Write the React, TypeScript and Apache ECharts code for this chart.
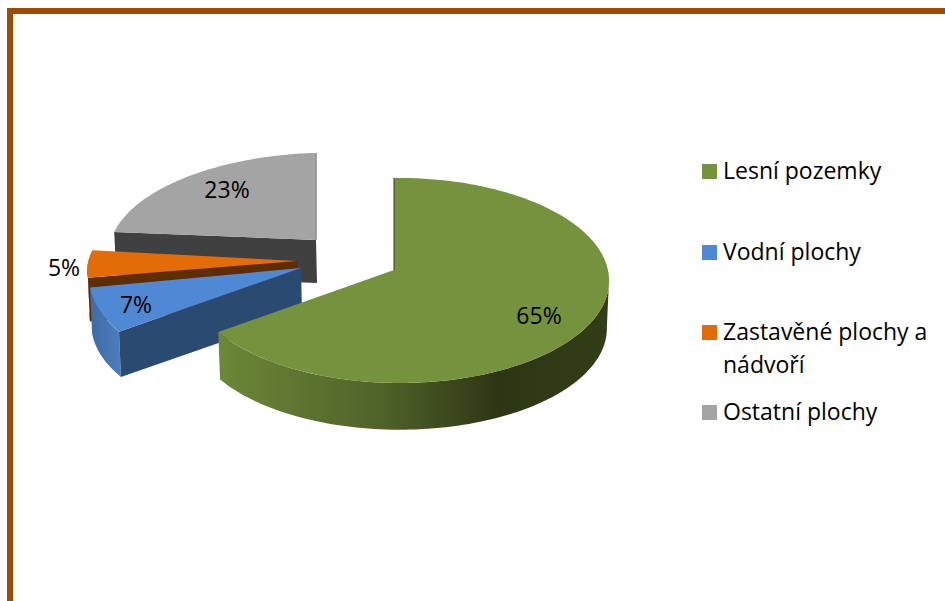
import React, { useEffect, useRef } from "react";
import * as echarts from "echarts";

const categories = ["Lesní pozemky", "Vodní plochy", "Zastavěné plochy a nádvoří", "Ostatní plochy"];
const legendLabels = ["Lesní pozemky", "Vodní plochy", "Zastavěné plochy a\nnádvoří", "Ostatní plochy"];
const shares = [65, 7, 5, 23];
const topColors = ["#75923C", "#4F88D3", "#E36C09", "#A4A4A4"];

const FONT = "'Open Sans', sans-serif";
const TEXT_SIZE = 23;
const K = 0.102;
const M = 0.025;

// Exploded-slice geometry (drawing style): apex, radii, wall depth, y-shear, label centre
const SLICE_STYLE = [
  { ax: 394, ay: 270, r: 208.6, s: 101.4, depth: 48, shear: 0, lx: 539, ly: 315, cutColor: "#2A3414", edge: "#2F3A17", edgeW: 1 },
  { ax: 301, ay: 268, r: 216, s: 104, depth: 46, shear: 0, lx: 136, ly: 304, cutColor: "#2B4A72", edge: "", edgeW: 0 },
  { ax: 297, ay: 261, r: 214, s: 90, depth: 44, shear: 0, lx: 64, ly: 267, cutColor: "#5E2D02", edge: "", edgeW: 0 },
  { ax: 316, ay: 240, r: 211, s: 96, depth: 43, shear: 3.5, lx: 227, ly: 189, cutColor: "#404040", edge: "#8C8C8C", edgeW: 1.5 },
];
const LEGEND_STYLE = [
  { y: 164 },
  { y: 245 },
  { y: 325 },
  { y: 405 },
];

const WALL_STOPS = [
  [
    { offset: 0, color: "#6C8838" },
    { offset: 0.42, color: "#4F6229" },
    { offset: 0.72, color: "#2D3614" },
    { offset: 1, color: "#333E18" },
  ],
  [
    { offset: 0, color: "#3F6BA6" },
    { offset: 1, color: "#4C7EBD" },
  ],
  [
    { offset: 0, color: "#5E2D02" },
    { offset: 1, color: "#5E2D02" },
  ],
  [
    { offset: 0, color: "#404040" },
    { offset: 1, color: "#404040" },
  ],
];

function project(i: number, deg: number, scale = 1, drop = 0): number[] {
  const st = SLICE_STYLE[i];
  const t = (deg * Math.PI) / 180;
  const u = Math.sin(t) * scale;
  const v = Math.cos(t) * scale;
  const w = 1 + K * v - M * u;
  return [st.ax + (st.r * u) / w, st.ay - (st.s * v) / w - st.shear * u + drop];
}

function App() {
  const ref = useRef<HTMLDivElement>(null);
  useEffect(() => {
    if (!ref.current) return;
    const chart = echarts.init(ref.current, undefined, { renderer: "svg" });
    const total = shares.reduce((a, b) => a + b, 0);
    const ranges: number[][] = [];
    let acc = 0;
    shares.forEach((v) => {
      const start = (acc / total) * 360;
      acc += v;
      ranges.push([start, (acc / total) * 360]);
    });

    const makeSeries = (i: number) => ({
      type: "custom",
      name: categories[i],
      coordinateSystem: "none",
      silent: true,
      data: [[shares[i]]],
      renderItem: (_p: any, api: any) => {
        const st = SLICE_STYLE[i];
        const [a0, a1] = ranges[i];
        const apex = [st.ax, st.ay];
        const children: any[] = [];
        const bottomScale = 0.99;

        const w0 = Math.max(a0, 95);
        const w1 = Math.min(a1, 268);
        if (w1 > w0) {
          const upper: number[][] = [];
          const lower: number[][] = [];
          for (let d = w0; d < w1; d += 1.5) {
            upper.push(project(i, d));
            lower.push(project(i, d, bottomScale, st.depth));
          }
          upper.push(project(i, w1));
          lower.push(project(i, w1, bottomScale, st.depth));
          const xs = upper.concat(lower).map((p) => p[0]);
          const minX = Math.min(...xs);
          const maxX = Math.max(...xs);
          children.push({
            type: "polygon",
            shape: { points: upper.concat(lower.reverse()) },
            style: {
              fill: new echarts.graphic.LinearGradient(minX, 0, maxX, 0, WALL_STOPS[i], true),
            },
          });
        }

        if (i !== 0) {
          const p = project(i, a0);
          const q = project(i, a0, bottomScale, st.depth);
          children.push({
            type: "polygon",
            shape: { points: [apex, p, q, [st.ax + 1, st.ay + st.depth]] },
            style: { fill: st.cutColor },
          });
        }

        const top: number[][] = [apex];
        for (let d = a0; d < a1; d += 1) top.push(project(i, d));
        top.push(project(i, a1));
        children.push({
          type: "polygon",
          shape: { points: top },
          style: { fill: topColors[i] },
        });

        if (st.edge) {
          const e = i === 0 ? project(i, a0) : project(i, a1);
          children.push({
            type: "line",
            shape: { x1: e[0], y1: e[1], x2: st.ax, y2: st.ay },
            style: { stroke: st.edge, lineWidth: st.edgeW },
          });
        }

        children.push({
          type: "text",
          z2: 10,
          style: {
            x: st.lx,
            y: st.ly,
            text: `${api.value(0)}%`,
            font: `${TEXT_SIZE}px ${FONT}`,
            fill: "#000000",
            align: "center",
            verticalAlign: "middle",
          },
        });
        return { type: "group", children };
      },
    });

    const legendGraphics: any[] = [];
    legendLabels.forEach((label, i) => {
      const y = LEGEND_STYLE[i].y;
      legendGraphics.push({
        type: "rect",
        shape: { x: 702, y, width: 15, height: 15 },
        style: { fill: topColors[i] },
      });
      legendGraphics.push({
        type: "text",
        x: 723,
        y: y - 11,
        style: {
          text: label,
          font: `${TEXT_SIZE}px ${FONT}`,
          fill: "#000000",
          lineHeight: 33,
          verticalAlign: "top",
          align: "left",
        },
      });
    });

    chart.setOption({
      animation: false,
      backgroundColor: "#FFFFFF",
      graphic: [
        {
          type: "rect",
          shape: { x: 10, y: 11, width: 1100, height: 800 },
          style: { fill: "none", stroke: "#9A4C08", lineWidth: 6 },
        },
        ...legendGraphics,
      ],
      series: [3, 2, 1, 0].map(makeSeries),
    });
    return () => chart.dispose();
  }, []);
  return <div ref={ref} style={{ position: "fixed", left: 0, top: 0, width: 945, height: 601 }} />;
}

export default App;
